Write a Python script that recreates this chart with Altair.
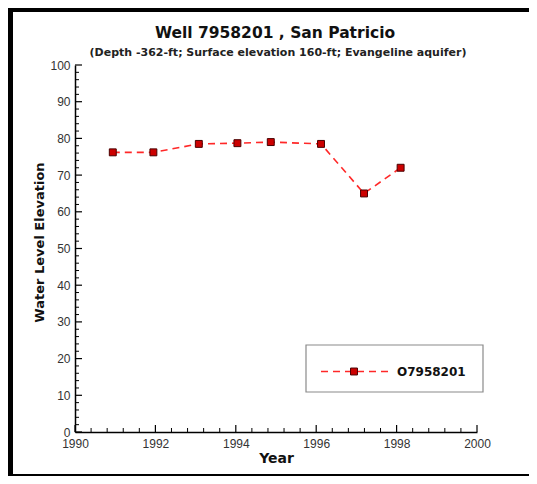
import altair as alt
import pandas as pd

# ---- data ----
years = [1990.94, 1991.95, 1993.08, 1994.04, 1994.87, 1996.12, 1997.19, 1998.10]
levels = [76.2, 76.2, 78.5, 78.7, 79.0, 78.5, 65.0, 72.0]
series_name = "O7958201"

x_major = [1990, 1992, 1994, 1996, 1998, 2000]
x_minor = [1990.4, 1990.8, 1991.2, 1991.6, 1992.4, 1992.8, 1993.2, 1993.6,
           1994.4, 1994.8, 1995.2, 1995.6, 1996.4, 1996.8, 1997.2, 1997.6,
           1998.4, 1998.8, 1999.2, 1999.6]
y_major = [0, 10, 20, 30, 40, 50, 60, 70, 80, 90, 100]
y_minor = [2, 4, 6, 8, 12, 14, 16, 18, 22, 24, 26, 28, 32, 34, 36, 38, 42, 44, 46, 48,
           52, 54, 56, 58, 62, 64, 66, 68, 72, 74, 76, 78, 82, 84, 86, 88, 92, 94, 96, 98]

title_text = "Well 7958201 , San Patricio"
subtitle_text = "(Depth -362-ft; Surface elevation 160-ft; Evangeline aquifer)"

W, H = 402, 367
FONT = "Liberation Sans"
WFONT = "DejaVu Sans"
LINE_RED = "#ff2828"
PT_RED = "#cc0000"

df = pd.DataFrame({"Year": years, "Level": levels, "Series": series_name})

xscale = alt.Scale(domain=[1990, 2000], nice=False, zero=False)
yscale = alt.Scale(domain=[0, 100], nice=False)

x_axis = alt.Axis(values=x_major, format="d", title="Year", ticks=False, grid=False,
                  labelFont=FONT, labelFontSize=12, labelColor="#333", labelPadding=6,
                  labelOverlap=False,
                  titleFont=WFONT, titleFontSize=14, titleFontWeight="bold", titleColor="#111",
                  titlePadding=2, domainColor="#000", domainWidth=1.5, labelFlush=False)
y_axis = alt.Axis(values=y_major, title="Water Level Elevation", ticks=False, grid=False,
                  labelFont=FONT, labelFontSize=12, labelColor="#333", labelPadding=5,
                  labelOverlap=False,
                  titleFont=WFONT, titleFontSize=13, titleFontWeight="bold", titleColor="#111",
                  titlePadding=3, titleY=177, domainColor="#000", domainWidth=1.5,
                  labelFlush=False)

X = lambda: alt.X("Year:Q", scale=xscale, axis=x_axis)
Y = lambda: alt.Y("Level:Q", scale=yscale, axis=y_axis)

line = alt.Chart(df).mark_line(color=LINE_RED, strokeDash=[7, 5], strokeWidth=1.6).encode(
    x=X(), y=Y())
points = alt.Chart(df).mark_square(size=48, color=PT_RED, stroke="#4a0000",
                                  strokeWidth=1, opacity=1).encode(x=X(), y=Y())

# inward ticks
xmaj = alt.Chart(pd.DataFrame({"Year": x_major})).mark_rule(color="black", strokeWidth=1.2).encode(
    x=X(), y=alt.value(H), y2=alt.value(H - 7))
xmin = alt.Chart(pd.DataFrame({"Year": x_minor})).mark_rule(color="black", strokeWidth=1).encode(
    x=X(), y=alt.value(H), y2=alt.value(H - 4))
ymaj = alt.Chart(pd.DataFrame({"Level": y_major})).mark_rule(color="black", strokeWidth=1.2).encode(
    y=Y(), x=alt.value(0), x2=alt.value(7))
ymin = alt.Chart(pd.DataFrame({"Level": y_minor})).mark_rule(color="black", strokeWidth=1).encode(
    y=Y(), x=alt.value(0), x2=alt.value(4))

# legend box (drawn inside plot, lower right)
leg_df = pd.DataFrame({"Series": [series_name], "Title": [title_text], "Sub": [subtitle_text]})
LX0, LX1, LY0, LY1 = 231, 408, 280, 327
LYC = 306.5
leg_box = alt.Chart(leg_df).mark_rect(fill="white", stroke="#8a8a8a", strokeWidth=1.2).encode(
    x=alt.value(LX0), x2=alt.value(LX1), y=alt.value(LY0), y2=alt.value(LY1))
leg_line = alt.Chart(leg_df).mark_rule(color=LINE_RED, strokeDash=[7, 5], strokeWidth=1.6).encode(
    x=alt.value(246), x2=alt.value(313), y=alt.value(LYC))
leg_pt = alt.Chart(leg_df).mark_square(size=48, color=PT_RED, stroke="#4a0000",
                                      strokeWidth=1, opacity=1).encode(
    x=alt.value(279), y=alt.value(LYC))
leg_txt = alt.Chart(leg_df).mark_text(align="left", baseline="middle", font=WFONT,
                                     fontSize=12, fontWeight="bold", color="#111").encode(
    x=alt.value(322), y=alt.value(LYC), text="Series:N")

# title and subtitle
title_mark = alt.Chart(leg_df).mark_text(align="center", baseline="middle", font=WFONT,
                                        fontSize=15.5, fontWeight="bold", color="#111").encode(
    x=alt.value(200), y=alt.value(-32), text="Title:N")
sub_mark = alt.Chart(leg_df).mark_text(align="center", baseline="middle", font=WFONT,
                                      fontSize=11, fontWeight="bold", color="#222").encode(
    x=alt.value(203), y=alt.value(-12), text="Sub:N")

# outer frame of the picture (filled bars, running past the right edge)
frame_l = alt.Chart(leg_df).mark_rect(color="black").encode(
    x=alt.value(-67), x2=alt.value(-62), y=alt.value(-57), y2=alt.value(411))
frame_t = alt.Chart(leg_df).mark_rect(color="black").encode(
    x=alt.value(-67), x2=alt.value(480), y=alt.value(-57), y2=alt.value(-53))
frame_b = alt.Chart(leg_df).mark_rect(color="black").encode(
    x=alt.value(-67), x2=alt.value(480), y=alt.value(409), y2=alt.value(411))

chart = alt.layer(
    line, points, xmaj, xmin, ymaj, ymin,
    leg_box, leg_line, leg_pt, leg_txt, title_mark, sub_mark,
    frame_l, frame_t, frame_b,
).properties(
    width=W, height=H,
    padding={"left": 67, "top": 57, "right": 52, "bottom": 44},
    autosize=alt.AutoSizeParams(type="none"),
).configure(background="white").configure_view(stroke="transparent", strokeWidth=0)

chart.save("out.html", embed_options={"renderer": "svg", "actions": False})
